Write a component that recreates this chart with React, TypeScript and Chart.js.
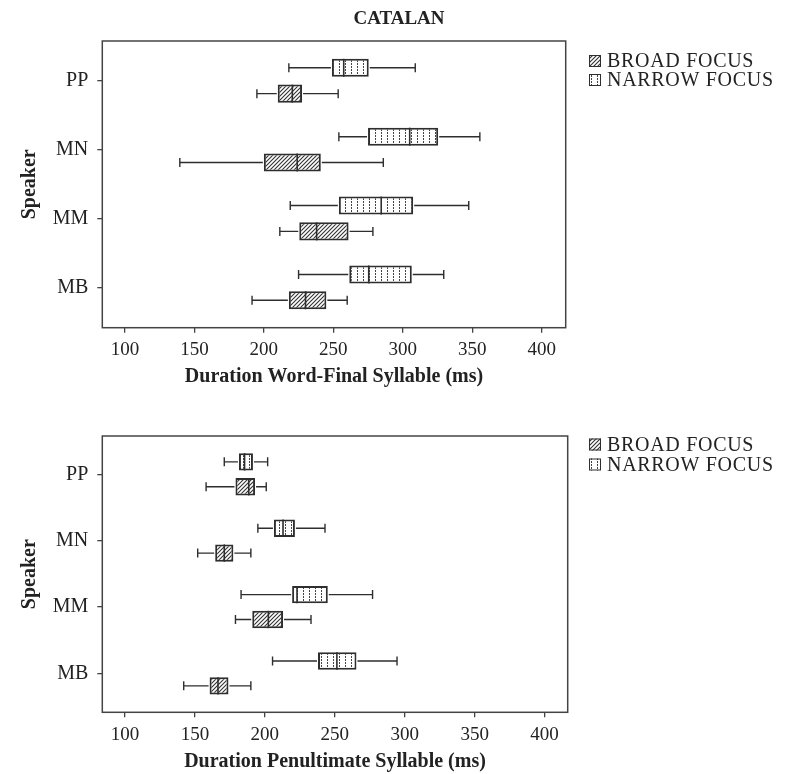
import React, { useEffect, useRef } from 'react';
import { Chart, registerables } from 'chart.js';

Chart.register(...registerables);

// ---------- data ----------
const speakers = ['PP', 'MN', 'MM', 'MB'];
const xTickValues = [100, 150, 200, 250, 300, 350, 400];
const narrowLabel = 'NARROW FOCUS';
const broadLabel = 'BROAD FOCUS';
const chartTitle = 'CATALAN';
const yAxisTitle = 'Speaker';
const finalAxisTitle = 'Duration Word-Final Syllable (ms)';
const penultAxisTitle = 'Duration Penultimate Syllable (ms)';

// Word-final syllable (order: PP, MN, MM, MB)
const finalNarrowMin = [218, 254, 219, 225];
const finalNarrowQ1 = [249, 275, 254, 261.5];
const finalNarrowMedian = [257.5, 305, 284.5, 275.5];
const finalNarrowQ3 = [275.5, 325.5, 307.5, 306.5];
const finalNarrowMax = [309, 355.5, 347.5, 329.5];

const finalBroadMin = [195, 139.5, 211.5, 191.5];
const finalBroadQ1 = [210, 200, 225.5, 218];
const finalBroadMedian = [220.5, 224, 238, 230];
const finalBroadQ3 = [227.5, 241, 261, 245];
const finalBroadMax = [253.5, 286, 278.5, 260];

// Penultimate syllable (order: PP, MN, MM, MB)
const penultNarrowMin = [171, 195, 183, 205.5];
const penultNarrowQ1 = [181.5, 206.5, 219.5, 238];
const penultNarrowMedian = [185.5, 213, 223, 251.5];
const penultNarrowQ3 = [191.5, 221.5, 245, 265.5];
const penultNarrowMax = [202, 243, 277, 294.5];

const penultBroadMin = [158, 152, 179, 142];
const penultBroadQ1 = [179, 164.5, 191, 160.5];
const penultBroadMedian = [188.5, 171, 202.5, 166.5];
const penultBroadQ3 = [193, 177.5, 213, 174];
const penultBroadMax = [201, 190, 233, 190];

// ---------- styling ----------
const SERIF = '"Liberation Serif", "Times New Roman", serif';
const INK = '#222';
const LINE = '#2e2e2e';

function hatchPattern(): CanvasPattern | string {
  const c = document.createElement('canvas');
  c.width = 4;
  c.height = 4;
  const g = c.getContext('2d');
  if (!g) return '#999';
  g.fillStyle = '#fff';
  g.fillRect(0, 0, 4, 4);
  g.strokeStyle = '#333';
  g.lineWidth = 1.1;
  g.beginPath();
  g.moveTo(0, 4);
  g.lineTo(4, 0);
  g.moveTo(-1, 1);
  g.lineTo(1, -1);
  g.moveTo(3, 5);
  g.lineTo(5, 3);
  g.stroke();
  return g.createPattern(c, 'repeat') || '#999';
}

function dotPattern(): CanvasPattern | string {
  const c = document.createElement('canvas');
  c.width = 6;
  c.height = 3;
  const g = c.getContext('2d');
  if (!g) return '#eee';
  g.fillStyle = '#fff';
  g.fillRect(0, 0, 6, 3);
  g.fillStyle = '#444';
  g.fillRect(3, 0, 1, 2);
  return g.createPattern(c, 'repeat') || '#eee';
}

type Stats = { min: number[]; q1: number[]; med: number[]; q3: number[]; max: number[] };

type PanelCfg = {
  canvasTop: number;
  canvasHeight: number;
  plotTop: number;
  plotBottom: number;
  plotLeft: number;
  plotRight: number;
  xMin: number;
  xMax: number;
  xTitle: string;
  xTitleCenter: number;
  legendYs: number[];
  title?: string;
  narrow: Stats;
  broad: Stats;
};

function makeExtras(cfg: PanelCfg) {
  return {
    id: 'boxExtras',
    afterDatasetsDraw(chart: any) {
      const ctx: CanvasRenderingContext2D = chart.ctx;
      const xs = chart.scales.x;
      ctx.save();
      chart.data.datasets.forEach((ds: any, di: number) => {
        const meta = chart.getDatasetMeta(di);
        meta.data.forEach((el: any, i: number) => {
          const y = el.y;
          const h = el.height;
          const pMin = xs.getPixelForValue(ds.whiskerMin[i]);
          const pQ1 = xs.getPixelForValue(ds.data[i].x[0]);
          const pQ3 = xs.getPixelForValue(ds.data[i].x[1]);
          const pMax = xs.getPixelForValue(ds.whiskerMax[i]);
          const pMed = xs.getPixelForValue(ds.median[i]);
          const cap = 4.5;
          ctx.strokeStyle = LINE;
          ctx.lineWidth = 1.4;
          ctx.beginPath();
          ctx.moveTo(pMin, y);
          ctx.lineTo(pQ1 - 1, y);
          ctx.moveTo(pQ3 + 1, y);
          ctx.lineTo(pMax, y);
          ctx.moveTo(pMin, y - cap);
          ctx.lineTo(pMin, y + cap);
          ctx.moveTo(pMax, y - cap);
          ctx.lineTo(pMax, y + cap);
          ctx.stroke();
          ctx.lineWidth = 1.6;
          ctx.beginPath();
          ctx.moveTo(pMed, y - h / 2);
          ctx.lineTo(pMed, y + h / 2);
          ctx.stroke();
        });
      });
      const a = chart.chartArea;
      ctx.strokeStyle = '#444';
      ctx.lineWidth = 1.5;
      ctx.strokeRect(a.left, a.top, a.right - a.left, a.bottom - a.top);
      ctx.restore();
    },
    afterDraw(chart: any) {
      const ctx: CanvasRenderingContext2D = chart.ctx;
      ctx.save();
      const order = [1, 0];
      order.forEach((di, row) => {
        const ds = chart.data.datasets[di];
        const cy = cfg.legendYs[row];
        const bx = 589;
        const size = 12;
        ctx.fillStyle = ds.backgroundColor;
        ctx.fillRect(bx, cy - size / 2, size, size);
        ctx.strokeStyle = LINE;
        ctx.lineWidth = 1;
        ctx.strokeRect(bx + 0.5, cy - size / 2 + 0.5, size - 1, size - 1);
        ctx.fillStyle = INK;
        ctx.font = `20px ${SERIF}`;
        (ctx as any).letterSpacing = '0.7px';
        ctx.textAlign = 'left';
        ctx.textBaseline = 'middle';
        ctx.fillText(ds.label, 607, cy + 1);
      });
      (ctx as any).letterSpacing = '0px';
      if (cfg.title) {
        ctx.fillStyle = INK;
        ctx.font = `bold 19px ${SERIF}`;
        ctx.textAlign = 'center';
        ctx.textBaseline = 'middle';
        ctx.fillText(cfg.title, 399, 19);
      }
      ctx.restore();
    },
  };
}

function BoxPanel({ cfg }: { cfg: PanelCfg }) {
  const ref = useRef<HTMLCanvasElement | null>(null);

  useEffect(() => {
    if (!ref.current) return;
    const n = speakers.length;
    const mk = (s: Stats) => speakers.map((_, i) => ({ y: n - i, x: [s.q1[i], s.q3[i]] }));
    const xHeight = cfg.canvasHeight - cfg.plotBottom;
    const titlePadBottom = xHeight - 12 - cfg.xTitleCenter;
    const chart = new Chart(ref.current, {
      type: 'bar',
      data: {
        datasets: [
          {
            label: narrowLabel,
            data: mk(cfg.narrow),
            backgroundColor: dotPattern(),
            borderColor: LINE,
            borderWidth: 2,
            borderSkipped: false,
            categoryPercentage: 0.75,
            barPercentage: 0.7,
            whiskerMin: cfg.narrow.min,
            whiskerMax: cfg.narrow.max,
            median: cfg.narrow.med,
          } as any,
          {
            label: broadLabel,
            data: mk(cfg.broad),
            backgroundColor: hatchPattern(),
            borderColor: LINE,
            borderWidth: 2,
            borderSkipped: false,
            categoryPercentage: 0.75,
            barPercentage: 0.7,
            whiskerMin: cfg.broad.min,
            whiskerMax: cfg.broad.max,
            median: cfg.broad.med,
          } as any,
        ],
      },
      options: {
        indexAxis: 'y',
        responsive: false,
        animation: false,
        layout: {
          padding: {
            left: 0,
            top: cfg.plotTop,
            right: 787 - cfg.plotRight,
            bottom: 0,
          },
        },
        plugins: {
          legend: { display: false },
          tooltip: { enabled: false },
          title: { display: false },
        },
        scales: {
          x: {
            type: 'linear',
            min: cfg.xMin,
            max: cfg.xMax,
            offset: false,
            afterBuildTicks: (s: any) => {
              s.ticks = xTickValues.map((v) => ({ value: v }));
            },
            afterFit: (s: any) => {
              s.height = xHeight;
            },
            grid: {
              drawOnChartArea: false,
              drawTicks: true,
              tickLength: 5,
              color: '#444',
              lineWidth: 1.3,
              offset: false,
            },
            border: { display: false },
            ticks: {
              font: { family: SERIF, size: 19 },
              color: INK,
              padding: 6,
              maxRotation: 0,
              autoSkip: false,
            },
            title: {
              display: true,
              text: cfg.xTitle,
              font: { family: SERIF, size: 20, weight: 'bold' },
              color: INK,
              padding: { top: 0, bottom: titlePadBottom },
            },
          },
          y: {
            type: 'linear',
            min: 0.414,
            max: 4.577,
            offset: false,
            afterBuildTicks: (s: any) => {
              s.ticks = speakers.map((_, i) => ({ value: n - i }));
            },
            afterFit: (s: any) => {
              s.width = cfg.plotLeft;
            },
            grid: {
              drawOnChartArea: false,
              drawTicks: true,
              tickLength: 5,
              color: '#444',
              lineWidth: 1.3,
              offset: false,
            },
            border: { display: false },
            ticks: {
              font: { family: SERIF, size: 20 },
              color: INK,
              padding: 9,
              autoSkip: false,
              callback: (v: any) => speakers[n - Number(v)] ?? '',
            },
            title: {
              display: true,
              text: yAxisTitle,
              font: { family: SERIF, size: 20, weight: 'bold' },
              color: INK,
              padding: { top: 17.5, bottom: 0 },
            },
          },
        },
      } as any,
      plugins: [makeExtras(cfg) as any],
    });
    return () => chart.destroy();
  }, [cfg]);

  return (
    <canvas
      ref={ref}
      width={787}
      height={cfg.canvasHeight}
      style={{
        position: 'absolute',
        left: 0,
        top: cfg.canvasTop,
        width: 787,
        height: cfg.canvasHeight,
        display: 'block',
      }}
    />
  );
}

const topPanel: PanelCfg = {
  canvasTop: 0,
  canvasHeight: 395,
  plotTop: 41,
  plotBottom: 327.7,
  plotLeft: 102.3,
  plotRight: 565.7,
  xMin: 83.7,
  xMax: 417.3,
  xTitle: finalAxisTitle,
  xTitleCenter: 49,
  legendYs: [61, 80],
  title: chartTitle,
  narrow: { min: finalNarrowMin, q1: finalNarrowQ1, med: finalNarrowMedian, q3: finalNarrowQ3, max: finalNarrowMax },
  broad: { min: finalBroadMin, q1: finalBroadQ1, med: finalBroadMedian, q3: finalBroadQ3, max: finalBroadMax },
};

const bottomPanel: PanelCfg = {
  canvasTop: 395,
  canvasHeight: 379,
  plotTop: 41,
  plotBottom: 317.3,
  plotLeft: 102.3,
  plotRight: 567.7,
  xMin: 83.8,
  xMax: 416.5,
  xTitle: penultAxisTitle,
  xTitleCenter: 49.2,
  legendYs: [49.5, 69.5],
  narrow: { min: penultNarrowMin, q1: penultNarrowQ1, med: penultNarrowMedian, q3: penultNarrowQ3, max: penultNarrowMax },
  broad: { min: penultBroadMin, q1: penultBroadQ1, med: penultBroadMedian, q3: penultBroadQ3, max: penultBroadMax },
};

export default function App() {
  return (
    <div
      style={{
        position: 'absolute',
        left: 0,
        top: 0,
        width: 787,
        height: 774,
        background: '#fff',
        overflow: 'hidden',
      }}
    >
      <BoxPanel cfg={topPanel} />
      <BoxPanel cfg={bottomPanel} />
    </div>
  );
}
